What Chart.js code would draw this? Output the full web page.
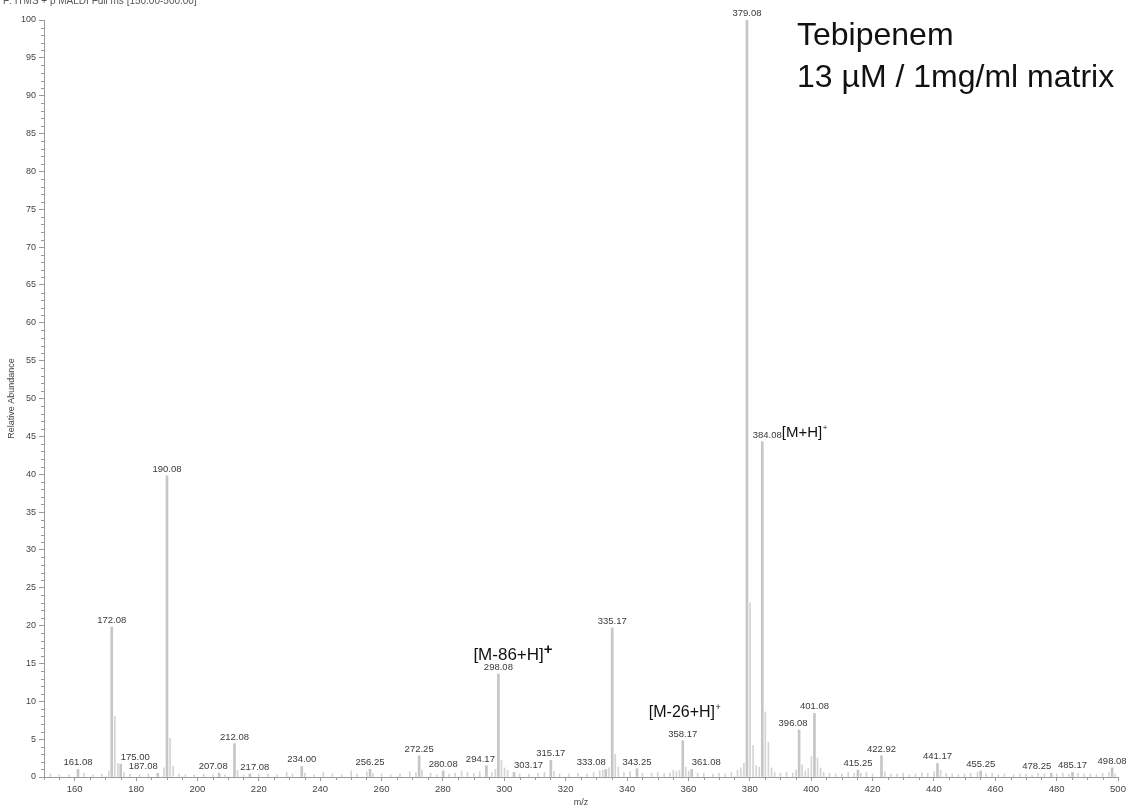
<!DOCTYPE html>
<html>
<head>
<meta charset="utf-8">
<title>Tebipenem MALDI spectrum</title>
<script src="https://cdn.jsdelivr.net/npm/chart.js@4.4.1/dist/chart.umd.min.js"></script>
<style>
  html, body { margin: 0; padding: 0; background: #ffffff; }
  canvas { display: block; }
</style>
</head>
<body>
<canvas id="spectrum" width="1133" height="809"></canvas>
<script>
// Labelled peaks: m/z and relative abundance (%)
const labelledMz = [161.08, 172.08, 175.00, 187.08, 190.08, 207.08, 212.08, 217.08, 234.00, 256.25,
  272.25, 280.08, 294.17, 298.08, 303.17, 315.17, 333.08, 335.17, 343.25, 358.17,
  361.08, 379.08, 384.08, 396.08, 401.08, 415.25, 422.92, 441.17, 455.25, 478.25,
  485.17, 498.08];
const labelledAbundance = [1.0, 19.8, 1.7, 0.5, 39.8, 0.5, 4.4, 0.4, 1.4, 1.0,
  2.8, 0.8, 1.5, 13.6, 0.6, 2.2, 1.0, 19.7, 1.1, 4.8,
  1.0, 100, 44.3, 6.2, 8.4, 0.9, 2.8, 1.8, 0.8, 0.5,
  0.6, 1.2];

// Unlabelled isotope and background peaks
const minorMz = [152.1, 155.0, 158.2, 163.1, 166.0, 168.9, 171.1, 173.08, 174.08, 176.1,
  178.0, 181.1, 184.0, 189.08, 191.08, 192.08, 194.0, 196.1, 199.0, 202.0,
  205.1, 209.0, 213.08, 215.0, 220.0, 223.0, 226.0, 229.1, 231.0, 235.0,
  238.0, 241.0, 244.0, 247.0, 250.1, 252.0, 255.2, 257.2, 260.0, 263.0,
  266.0, 269.2, 271.2, 273.2, 276.0, 278.0, 282.0, 284.0, 286.1, 288.0,
  290.1, 292.0, 296.0, 297.1, 299.08, 300.08, 301.1, 305.0, 308.0, 311.0,
  313.1, 316.2, 318.0, 321.0, 324.0, 327.0, 329.1, 331.1, 332.1, 334.1,
  336.17, 337.17, 339.0, 341.0, 345.0, 348.0, 350.0, 352.1, 354.0, 355.1,
  356.1, 357.1, 359.17, 360.1, 363.0, 365.0, 368.0, 370.0, 372.0, 374.0,
  376.0, 377.08, 378.08, 380.08, 381.08, 382.08, 383.08, 385.08, 386.08, 387.08,
  388.1, 390.0, 392.0, 394.0, 395.1, 397.08, 398.1, 399.08, 400.08, 402.08,
  403.08, 404.1, 406.0, 408.0, 410.0, 412.1, 414.0, 416.2, 418.0, 420.0,
  424.0, 426.0, 428.0, 430.0, 432.0, 434.0, 436.1, 438.0, 440.1, 442.2,
  444.0, 446.0, 448.0, 450.0, 452.0, 454.2, 457.0, 459.0, 461.0, 463.0,
  466.0, 468.0, 470.0, 472.0, 474.0, 476.0, 480.0, 482.0, 484.0, 487.0,
  489.0, 491.0, 493.0, 495.0, 497.0, 499.1];
const minorAbundance = [0.4, 0.3, 0.3, 0.5, 0.3, 0.4, 0.8, 8.0, 1.8, 0.6,
  0.4, 0.3, 0.4, 1.2, 5.1, 1.4, 0.4, 0.3, 0.3, 0.4,
  0.3, 0.3, 0.9, 0.3, 0.3, 0.4, 0.3, 0.6, 0.4, 0.5,
  0.3, 0.6, 0.4, 0.3, 0.8, 0.4, 0.7, 0.5, 0.4, 0.3,
  0.4, 0.7, 0.6, 0.9, 0.5, 0.3, 0.4, 0.5, 0.8, 0.6,
  0.5, 0.7, 0.6, 1.0, 2.2, 1.2, 0.9, 0.4, 0.4, 0.5,
  0.6, 0.7, 0.4, 0.4, 0.5, 0.4, 0.6, 0.8, 0.9, 1.2,
  3.0, 1.3, 0.6, 0.7, 0.5, 0.5, 0.6, 0.5, 0.5, 0.9,
  0.7, 0.9, 1.3, 0.8, 0.5, 0.5, 0.4, 0.5, 0.4, 0.6,
  0.9, 1.2, 1.8, 23.0, 4.2, 1.5, 1.3, 8.6, 4.6, 1.2,
  0.6, 0.5, 0.6, 0.5, 0.9, 1.6, 0.8, 1.1, 2.7, 2.5,
  1.2, 0.6, 0.5, 0.4, 0.4, 0.6, 0.5, 0.5, 0.6, 0.4,
  0.7, 0.4, 0.4, 0.5, 0.3, 0.4, 0.6, 0.5, 0.7, 0.9,
  0.5, 0.4, 0.3, 0.4, 0.5, 0.6, 0.4, 0.5, 0.3, 0.4,
  0.3, 0.4, 0.4, 0.3, 0.5, 0.4, 0.4, 0.5, 0.4, 0.5,
  0.4, 0.4, 0.3, 0.5, 0.6, 0.4];

// Axis ticks
const xTickValues = [160, 180, 200, 220, 240, 260, 280, 300, 320, 340, 360, 380, 400, 420, 440, 460, 480, 500];
const yTickValues = [0, 5, 10, 15, 20, 25, 30, 35, 40, 45, 50, 55, 60, 65, 70, 75, 80, 85, 90, 95, 100];

// Ion assignments written next to peak labels
const ionNotes = [
  { mz: 298.08, text: '[M-86+H]', sup: '+', size: 17, supBold: true },
  { mz: 358.17, text: '[M-26+H]', sup: '+', size: 16, supBold: false },
  { mz: 384.08, text: '[M+H]', sup: '+', size: 15, supBold: false }
];

const scanHeader = 'F: ITMS + p MALDI Full ms [150.00-500.00]';
const sampleLines = ['Tebipenem', '13 µM / 1mg/ml matrix'];

const FONT = "'Liberation Sans', Arial, Helvetica, sans-serif";
const PEAK_COLOR = '#c6c6c6';
const AXIS_COLOR = '#9a9a9a';

// Peak label alignment where the label is nudged sideways to avoid neighbours
const labelAlign = { '175.00': 'left', '187.08': 'right', '207.08': 'shiftL', '217.08': 'shiftR',
  '294.17': 'shiftL', '303.17': 'left', '333.08': 'right', '361.08': 'left', '384.08': 'shiftR',
  '396.08': 'shiftL', '478.25': 'right' };

const peakLabels = {
  id: 'peakLabels',
  afterDatasetsDraw(chart) {
    const { ctx, scales: { x, y } } = chart;
    ctx.save();
    ctx.font = '9.5px ' + FONT;
    ctx.fillStyle = '#3a3a3a';
    ctx.textBaseline = 'bottom';
    const labelBoxes = {};
    labelledMz.forEach((mz, i) => {
      const txt = mz.toFixed(2);
      const px = x.getPixelForValue(mz);
      const py = y.getPixelForValue(labelledAbundance[i]) - 2;
      const w = ctx.measureText(txt).width;
      let cx = px;
      const a = labelAlign[txt];
      if (a === 'left') cx = px + w / 2;
      else if (a === 'right') cx = px - w / 2;
      else if (a === 'shiftL') cx = px - 6;
      else if (a === 'shiftR') cx = px + 5;
      ctx.textAlign = 'center';
      ctx.fillText(txt, cx, py);
      labelBoxes[txt] = { left: cx - w / 2, right: cx + w / 2, top: py - 9, bottom: py };
    });

    // ion assignments
    ctx.fillStyle = '#111111';
    ionNotes.forEach(n => {
      const lab = labelBoxes[n.mz.toFixed(2)];
      ctx.font = n.size + 'px ' + FONT;
      ctx.textAlign = 'left';
      ctx.textBaseline = 'alphabetic';
      const w = ctx.measureText(n.text).width;
      let lx, ly;
      if (n.mz === 384.08) {
        lx = lab.right;
        ly = lab.bottom - 3;
      } else if (n.mz === 298.08) {
        lx = x.getPixelForValue(n.mz) - 25;
        ly = lab.top - 3;
      } else {
        lx = x.getPixelForValue(n.mz) - 34;
        ly = lab.top - 13;
      }
      ctx.fillText(n.text, lx, ly);
      if (n.supBold) {
        ctx.font = 'bold ' + Math.round(n.size * 0.9) + 'px ' + FONT;
        ctx.fillText(n.sup, lx + w, ly - 6);
      } else {
        ctx.font = Math.round(n.size * 0.55) + 'px ' + FONT;
        ctx.fillText(n.sup, lx + w + 0.5, ly - 7);
      }
    });
    ctx.restore();
  },
  afterDraw(chart) {
    const { ctx, scales: { x, y }, chartArea } = chart;
    ctx.save();
    // minor ticks
    ctx.strokeStyle = AXIS_COLOR;
    ctx.lineWidth = 1;
    ctx.beginPath();
    for (let v = 0; v <= 100; v += 1) {
      if (v % 5 === 0) continue;
      const py = Math.round(y.getPixelForValue(v)) + 0.5;
      ctx.moveTo(chartArea.left - 3, py);
      ctx.lineTo(chartArea.left, py);
    }
    for (let v = 150; v <= 500; v += 5) {
      if (v % 20 === 0) continue;
      const px = Math.round(x.getPixelForValue(v)) + 0.5;
      ctx.moveTo(px, chartArea.bottom);
      ctx.lineTo(px, chartArea.bottom + 3);
    }
    ctx.stroke();

    // scan header (runs off the top edge)
    ctx.font = '10px ' + FONT;
    ctx.fillStyle = '#555555';
    ctx.textAlign = 'left';
    ctx.textBaseline = 'alphabetic';
    ctx.fillText(scanHeader, 3, 4);

    // sample description
    ctx.font = '32px ' + FONT;
    ctx.fillStyle = '#111111';
    ctx.fillText(sampleLines[0], 797, 45);
    ctx.fillText(sampleLines[1], 797, 87);
    ctx.restore();
  }
};

const ctx = document.getElementById('spectrum').getContext('2d');
new Chart(ctx, {
  type: 'bar',
  data: {
    datasets: [
      {
        data: minorMz.map((m, i) => ({ x: m, y: minorAbundance[i] })),
        backgroundColor: '#d4d4d4',
        barThickness: 1,
        grouped: false
      },
      {
        data: labelledMz.map((m, i) => ({ x: m, y: labelledAbundance[i] })),
        backgroundColor: PEAK_COLOR,
        barThickness: 2,
        grouped: false
      }
    ]
  },
  options: {
    responsive: false,
    animation: false,
    devicePixelRatio: 1,
    layout: { padding: { left: 0, right: 15, top: 20, bottom: 0 } },
    plugins: { legend: { display: false }, tooltip: { enabled: false } },
    scales: {
      x: {
        type: 'linear',
        offset: false,
        min: 150,
        max: 500,
        afterBuildTicks: s => { s.ticks = xTickValues.map(v => ({ value: v })); },
        afterFit: s => { s.height = 32; },
        grid: { drawOnChartArea: false, offset: false, color: AXIS_COLOR, tickLength: 4 },
        border: { color: AXIS_COLOR },
        ticks: { font: { family: FONT, size: 9.5 }, color: '#444444', padding: 3, maxRotation: 0, autoSkip: false },
        title: { display: true, text: 'm/z', font: { family: FONT, size: 9 }, color: '#444444', padding: { top: 0, bottom: 1 } }
      },
      y: {
        min: 0,
        max: 100,
        afterBuildTicks: s => { s.ticks = yTickValues.map(v => ({ value: v })); },
        afterFit: s => { s.width = 44; },
        grid: { drawOnChartArea: false, color: AXIS_COLOR, tickLength: 5 },
        border: { color: AXIS_COLOR },
        ticks: { font: { family: FONT, size: 9 }, color: '#444444', padding: 3, autoSkip: false },
        title: { display: true, text: 'Relative Abundance', font: { family: FONT, size: 9 }, color: '#444444', padding: { top: 6, bottom: 0 } }
      }
    }
  },
  plugins: [peakLabels]
});
</script>
</body>
</html>
